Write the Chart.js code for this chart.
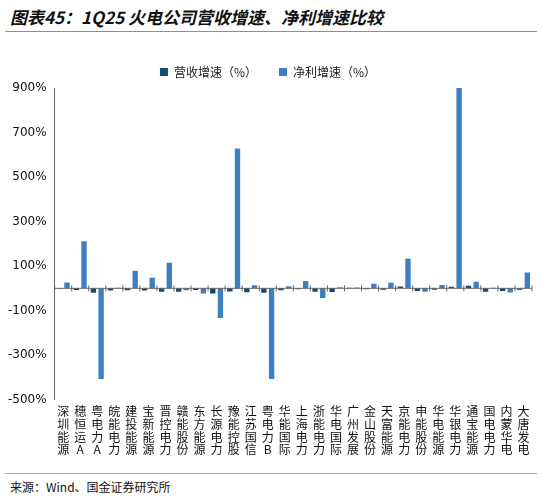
<!DOCTYPE html>
<html>
<head>
<meta charset="utf-8">
<script src="https://cdn.jsdelivr.net/npm/chart.js@4.4.1/dist/chart.umd.min.js"></script>
<style>
  body { margin: 0; background: #fff; font-family: "Noto Sans CJK SC", sans-serif; }
  #title { position: absolute; left: 10px; top: 4px; font-size: 17px; font-weight: bold; font-style: italic; color: #111; }
  #topline { position: absolute; left: 5px; top: 31px; width: 532px; border-top: 1px solid #7f93a8; }
  #wrap { position: absolute; left: 0; top: 44px; width: 542px; height: 418px; }
  #botline { position: absolute; left: 5px; top: 473px; width: 532px; border-top: 1px solid #8fb0cc; }
  #source { position: absolute; left: 10px; top: 478px; font-size: 12px; color: #111; }
</style>
</head>
<body>
<div id="title">图表45：1Q25 火电公司营收增速、净利增速比较</div>
<div id="topline"></div>
<div id="wrap"><canvas id="chart"></canvas></div>
<div id="botline"></div>
<div id="source">来源：Wind、国金证券研究所</div>
<script>
const companies = ['深圳能源', '穗恒运A', '粤电力A', '皖能电力', '建投能源', '宝新能源', '晋控电力', '赣能股份', '东方能源', '长源电力',
  '豫能控股', '江苏国信', '粤电力B', '华能国际', '上海电力', '浙能电力', '华电国际', '广州发展', '金山股份', '天富能源',
  '京能电力', '申能股份', '华电能源', '华银电力', '通宝能源', '国电电力', '内蒙华电', '大唐发电'];
const revenueGrowth = [-2, -8, -20, -10, -9, -10, -15, -15, -8, -23,
  -14, -18, -20, -9, -4, -15, -17, 2, -4, -6,
  8, -12, -6, 7, 12, -15, -12, -6];
const profitGrowth = [26, 212, -407, 2, 79, 48, 115, -9, -23, -133,
  628, 14, -407, 9, 33, -43, 5, 4, 20, 25,
  133, -15, 15, 902, 29, 3, -19, 71];
const yTicks = [900, 700, 500, 300, 100, -100, -300, -500];

const zeroLine = {
  id: 'zeroLine',
  afterDatasetsDraw(chart) {
    const { ctx, chartArea, scales } = chart;
    const y = scales.y.getPixelForValue(0);
    ctx.save();
    ctx.strokeStyle = '#666';
    ctx.lineWidth = 1;
    ctx.beginPath();
    ctx.moveTo(chartArea.left, y);
    ctx.lineTo(chartArea.right, y);
    ctx.stroke();
    for (let i = 0; i <= companies.length; i++) {
      const x = chartArea.left + (chartArea.right - chartArea.left) * i / companies.length;
      ctx.beginPath();
      ctx.moveTo(x, y - 3);
      ctx.lineTo(x, y + 3);
      ctx.stroke();
    }
    ctx.restore();
  }
};

new Chart(document.getElementById('chart'), {
  type: 'bar',
  data: {
    labels: companies.map(name => name.split('')),
    datasets: [
      { label: '营收增速（%）', data: revenueGrowth, backgroundColor: '#0f4c75', barPercentage: 0.7, categoryPercentage: 0.9 },
      { label: '净利增速（%）', data: profitGrowth, backgroundColor: '#3e7fc1', barPercentage: 0.7, categoryPercentage: 0.9 }
    ]
  },
  options: {
    responsive: true,
    maintainAspectRatio: false,
    animation: false,
    layout: { padding: { left: 4, right: 10, top: 0, bottom: 0 } },
    plugins: {
      legend: {
        position: 'top',
        labels: { boxWidth: 8, boxHeight: 8, padding: 22, color: '#222', font: { size: 12, family: '"Noto Sans CJK SC"' } }
      },
      tooltip: { enabled: false }
    },
    scales: {
      x: {
        grid: { display: false, drawTicks: false },
        border: { display: false },
        ticks: { autoSkip: false, maxRotation: 0, minRotation: 0, color: '#111', padding: 6, font: { size: 12, family: '"Noto Sans CJK SC"', lineHeight: 1.05 } }
      },
      y: {
        min: -500,
        max: 900,
        afterBuildTicks: axis => { axis.ticks = yTicks.map(v => ({ value: v })); },
        grid: { display: false, tickLength: 4, drawTicks: true },
        border: { display: true, color: '#666' },
        ticks: { color: '#111', padding: 4, font: { size: 12, family: '"DejaVu Sans"' }, callback: v => v + '%' }
      }
    }
  },
  plugins: [zeroLine]
});
</script>
</body>
</html>
